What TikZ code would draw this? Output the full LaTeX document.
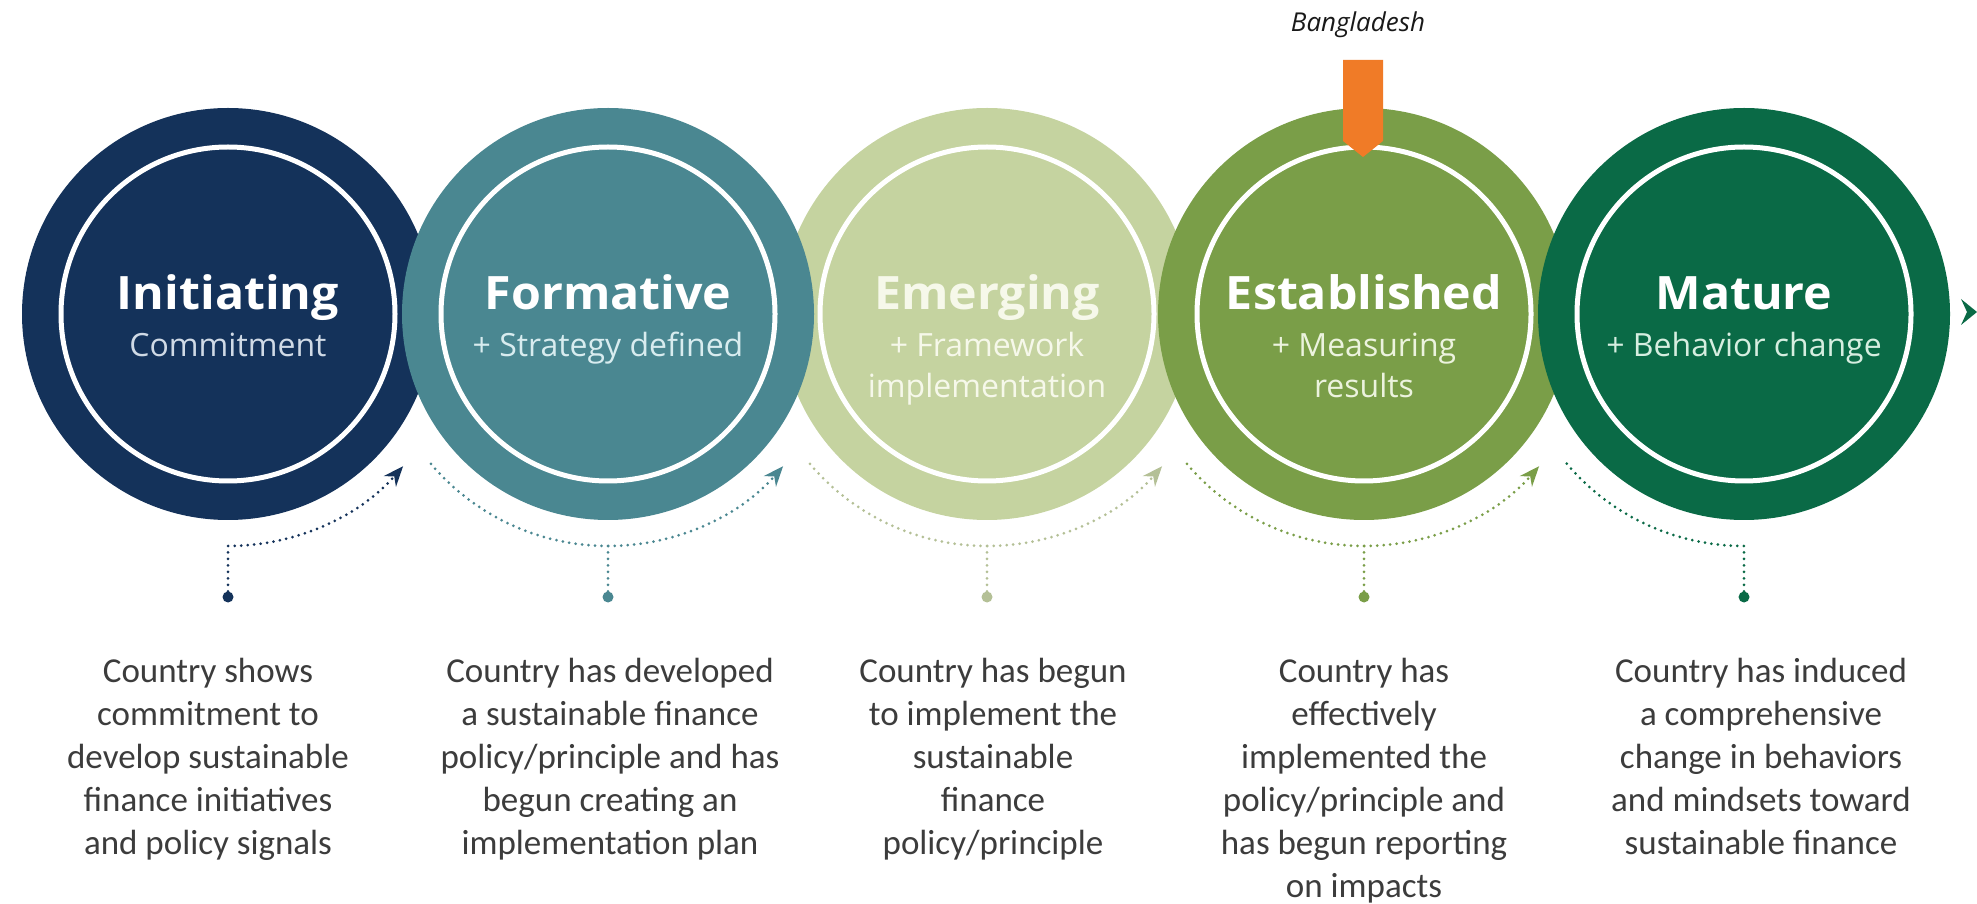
\documentclass[tikz,border=0pt]{standalone}
\usepackage{fontspec}
\setmainfont{Open Sans}
\newfontfamily\ttlfont[FakeStretch=1.05]{Open Sans}
\newfontfamily\bodyfont{Carlito}
\usetikzlibrary{arrows.meta}
\definecolor{cA}{RGB}{20,50,90}
\definecolor{cB}{RGB}{74,135,145}
\definecolor{cC}{RGB}{197,211,160}
\definecolor{cCd}{RGB}{180,192,150}
\definecolor{cD}{RGB}{122,158,72}
\definecolor{cE}{RGB}{10,106,70}
\definecolor{orangeM}{RGB}{240,123,39}
\definecolor{descgray}{RGB}{60,60,60}
\definecolor{subA}{RGB}{208,218,230}
\definecolor{subB}{RGB}{216,236,239}
\definecolor{subC}{RGB}{246,248,234}
\definecolor{subD}{RGB}{236,243,222}
\definecolor{subE}{RGB}{214,238,224}
\begin{document}
\begin{tikzpicture}[x=1pt,y=1pt,
  stage/.style={circle, minimum size=412pt, inner sep=0pt},
  ring/.style={draw=white, line width=5pt},
  ttl/.style={font=\ttlfont\bfseries\fontsize{46}{50}\selectfont, anchor=base, inner sep=0pt},
  sub/.style={font=\fontsize{32}{41}\selectfont, anchor=base, align=center, inner sep=0pt},
  desc/.style={font=\bodyfont\fontsize{35}{43}\selectfont, text=descgray, align=center, anchor=base, inner sep=0pt},
  conn/.style={line width=3pt, line cap=round, dash pattern=on 0pt off 6.5pt},
  dotn/.style={circle, inner sep=0pt, minimum size=11pt},
  tip/.style={-{Stealth[length=20pt,width=16pt]}}
]
\fill[white] (0,0) rectangle (1977,903);
\useasboundingbox (0,0) rectangle (1977,903);

% circles (stacking order 1,3,2,4,5)
\node[stage, fill=cA] (c1) at (228,589) {};
\draw[ring] (c1.center) circle[radius=167];
\node[stage, fill=cC] (c3) at (987,589) {};
\draw[ring] (c3.center) circle[radius=167];
\node[stage, fill=cB] (c2) at (608,589) {};
\draw[ring] (c2.center) circle[radius=167];
\node[stage, fill=cD] (c4) at (1364,589) {};
\draw[ring] (c4.center) circle[radius=167];
\node[stage, fill=cE] (c5) at (1744,589) {};
\draw[ring] (c5.center) circle[radius=167];

% titles (a multi-line node's base is its last line)
\node[ttl, text=white] (t1) at ([yshift=4pt]c1.center) {Initiating};
\node[sub, text=subA] (s1) at ([yshift=-43pt]c1.center) {Commitment};
\node[ttl, text=white] (t2) at ([yshift=4pt]c2.center) {Formative};
\node[sub, text=subB] (s2) at ([yshift=-43pt]c2.center) {+ Strategy defined};
\node[ttl, text=subC] (t3) at ([yshift=4pt]c3.center) {Emerging};
\node[sub, text=subC] (s3) at ([yshift=-84pt]c3.center) {+ Framework\\implementation};
\node[ttl, text=white] (t4) at ([yshift=4pt]c4.center) {Established};
\node[sub, text=subD] (s4) at ([yshift=-84pt]c4.center) {+ Measuring\\results};
\node[ttl, text=white] (t5) at ([yshift=4pt]c5.center) {Mature};
\node[sub, text=subE] (s5) at ([yshift=-43pt]c5.center) {+ Behavior change};

% Bangladesh marker
\node[font=\itshape\fontsize{26}{30}\selectfont, text=black!90, inner sep=0pt, anchor=base] (bd) at (1358,871) {Bangladesh};
\fill[orangeM] (1343,843) -- (1383,843) -- (1383,762) -- (1363,746) -- (1343,762) -- cycle;

% dots
\node[dotn, fill=cA] (d1) at (228,306) {};
\node[dotn, fill=cB] (d2) at (608,306) {};
\node[dotn, fill=cCd] (d3) at (987,306) {};
\node[dotn, fill=cD] (d4) at (1364,306) {};
\node[dotn, fill=cE] (d5) at (1744,306) {};

\coordinate (b1) at ([yshift=-232pt]c1.center);
\coordinate (b2) at ([yshift=-232pt]c2.center);
\coordinate (b3) at ([yshift=-232pt]c3.center);
\coordinate (b4) at ([yshift=-232pt]c4.center);
\coordinate (b5) at ([yshift=-232pt]c5.center);

% connectors
\draw[conn, draw=cA, tip] (d1) -- (b1) arc[start angle=-90, end angle=-41, radius=232];
\draw[conn, draw=cB, tip] (d2) -- (b2) arc[start angle=-90, end angle=-41, radius=232];
\draw[conn, draw=cB] (b2) arc[start angle=-90, end angle=-140, radius=232];
\draw[conn, draw=cCd, tip] (d3) -- (b3) arc[start angle=-90, end angle=-41, radius=232];
\draw[conn, draw=cCd] (b3) arc[start angle=-90, end angle=-140, radius=232];
\draw[conn, draw=cD, tip] (d4) -- (b4) arc[start angle=-90, end angle=-41, radius=232];
\draw[conn, draw=cD] (b4) arc[start angle=-90, end angle=-140, radius=232];
\draw[conn, draw=cE] (d5) -- (b5) arc[start angle=-90, end angle=-140, radius=232];

% continuation arrowhead
\fill[cE] (1977,591) -- (1961,604) -- (1967,591) -- (1961,578) -- cycle;

% descriptions (base = last line)
\node[desc] (e1) at (208,49) {Country shows\\commitment to\\develop sustainable\\finance initiatives\\and policy signals};
\node[desc] (e2) at (610,49) {Country has developed\\a sustainable finance\\policy/principle and has\\begun creating an\\implementation plan};
\node[desc] (e3) at (993,49) {Country has begun\\to implement the\\sustainable\\finance\\policy/principle};
\node[desc] (e4) at (1364,6) {Country has\\effectively\\implemented the\\policy/principle and\\has begun reporting\\on impacts};
\node[desc] (e5) at (1761,49) {Country has induced\\a comprehensive\\change in behaviors\\and mindsets toward\\sustainable finance};
\end{tikzpicture}
\end{document}
